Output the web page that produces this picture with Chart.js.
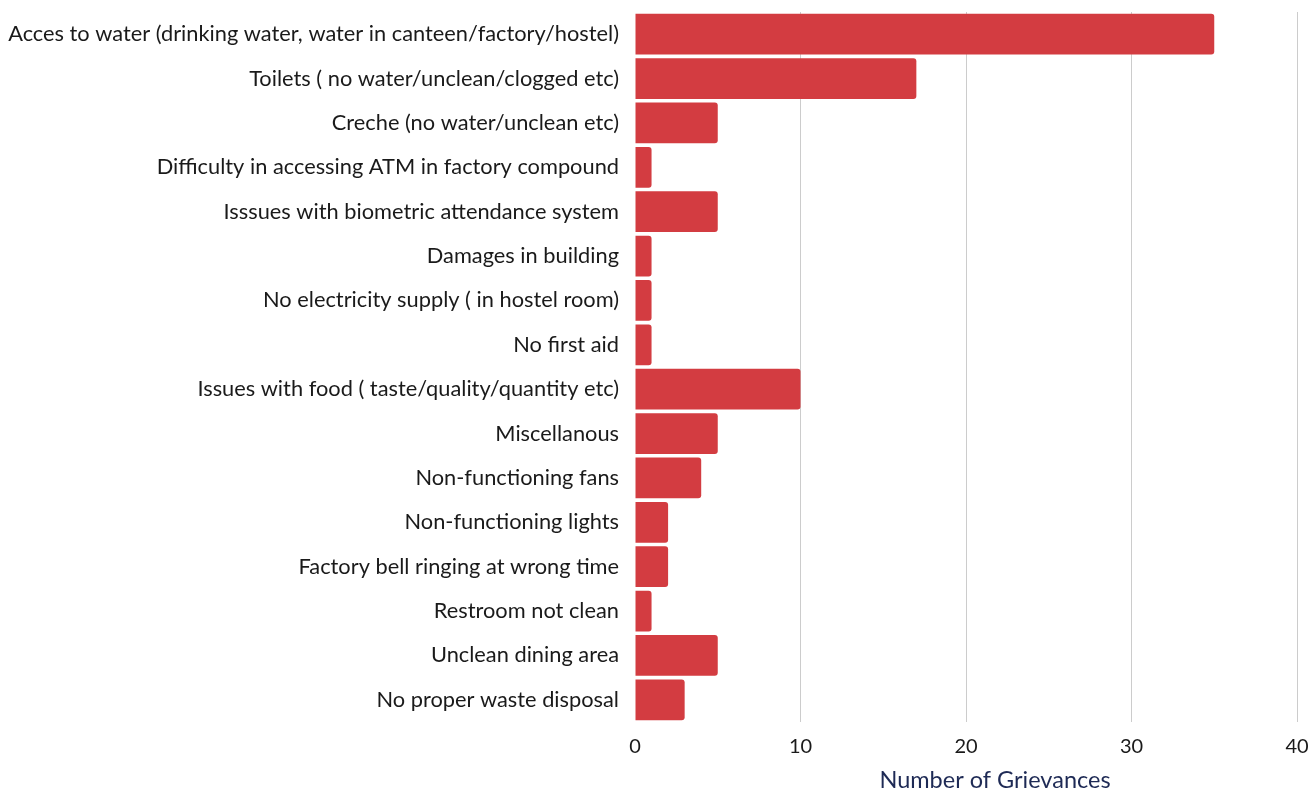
<!DOCTYPE html>
<html>
<head>
<meta charset="utf-8">
<script src="https://cdn.jsdelivr.net/npm/chart.js@4/dist/chart.umd.min.js"></script>
<style>
  html, body { margin: 0; padding: 0; background: #fff; }
  #wrap { width: 1310px; height: 791px; }
</style>
</head>
<body>
<div id="wrap"><canvas id="barChart"></canvas></div>
<script>
const categories = [
    'Acces to water (drinking water, water in canteen/factory/hostel)',
    'Toilets ( no water/unclean/clogged etc)',
    'Creche (no water/unclean etc)',
    'Difficulty in accessing ATM in factory compound',
    'Isssues with biometric attendance system',
    'Damages in building',
    'No electricity supply ( in hostel room)',
    'No first aid',
    'Issues with food ( taste/quality/quantity etc)',
    'Miscellanous',
    'Non-functioning fans',
    'Non-functioning lights',
    'Factory bell ringing at wrong time',
    'Restroom not clean',
    'Unclean dining area',
    'No proper waste disposal'
];
const grievances = [35, 17, 5, 1, 5, 1, 1, 1, 10, 5, 4, 2, 2, 1, 5, 3];
const xTicks = [0, 10, 20, 30, 40];
const axisTitle = 'Number of Grievances';

// title sits a bit right of the plot centre in the original, so draw it ourselves
const titlePlugin = {
    id: 'offsetTitle',
    afterDraw(chart) {
        const c = chart.ctx;
        const a = chart.chartArea;
        c.save();
        c.fillStyle = '#1e2a55';
        c.font = '23.5px Lato';
        c.textAlign = 'center';
        c.textBaseline = 'middle';
        c.fillText(axisTitle, (a.left + a.right) / 2 + 29, 780);
        c.restore();
    }
};

document.addEventListener('DOMContentLoaded', function () {
    const ctx = document.getElementById('barChart').getContext('2d');
    new Chart(ctx, {
        type: 'bar',
        data: {
            labels: categories,
            datasets: [{
                label: axisTitle,
                data: grievances,
                backgroundColor: '#d33c41',
                borderWidth: 0,
                borderRadius: 3,
                borderSkipped: 'start',
                barPercentage: 0.92,
                categoryPercentage: 1.0
            }]
        },
        options: {
            indexAxis: 'y',
            responsive: true,
            maintainAspectRatio: false,
            animation: false,
            layout: { padding: { top: 12, right: 13, bottom: 0, left: 0 } },
            plugins: {
                legend: { display: false },
                tooltip: { enabled: false }
            },
            scales: {
                x: {
                    min: 0,
                    max: 40,
                    afterBuildTicks: function (axis) {
                        axis.ticks = xTicks.map(v => ({ value: v }));
                    },
                    afterFit: function (axis) {
                        axis.height = 69;
                        axis.paddingLeft = 0;
                        axis.paddingRight = 0;
                    },
                    grid: {
                        color: function (c) { return c.tick && c.tick.value === 0 ? 'rgba(0,0,0,0)' : '#cccccc'; },
                        drawTicks: false
                    },
                    border: { display: false },
                    ticks: {
                        color: '#1a1a1a',
                        font: { family: 'Lato', size: 20 },
                        padding: 13
                    },
                    title: {
                        display: false
                    }
                },
                y: {
                    afterFit: function (axis) {
                        axis.width = 635;
                        axis.paddingTop = 0;
                        axis.paddingBottom = 0;
                    },
                    grid: { display: false, drawTicks: false },
                    border: { display: false },
                    ticks: {
                        color: '#1a1a1a',
                        font: { family: 'Lato', size: 21.8 },
                        padding: 16,
                        autoSkip: false
                    }
                }
            }
        },
        plugins: [titlePlugin]
    });
});
</script>
</body>
</html>
